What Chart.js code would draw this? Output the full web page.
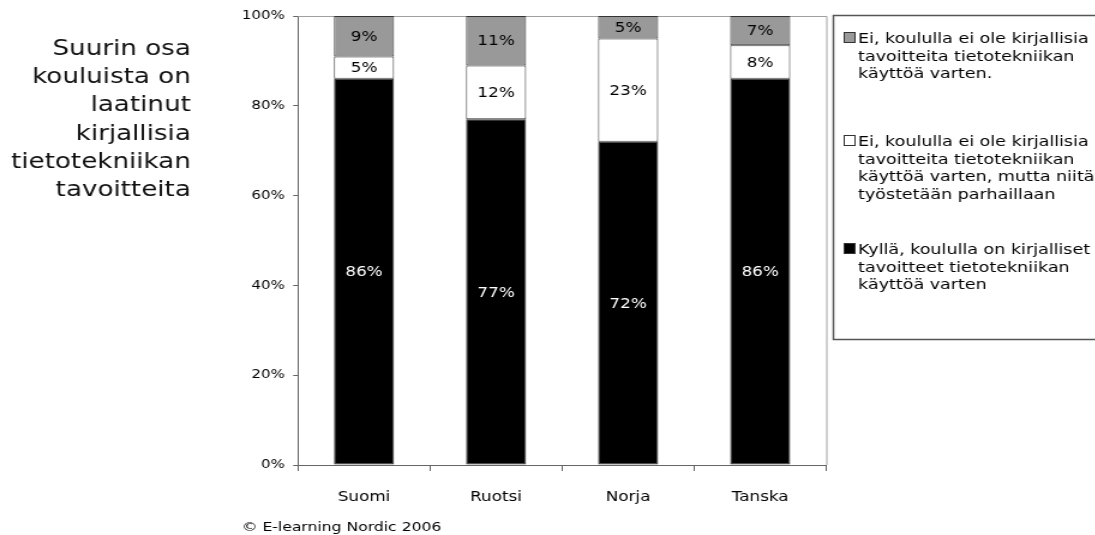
<!DOCTYPE html>
<html>
<head>
<meta charset="utf-8">
<script src="https://cdn.jsdelivr.net/npm/chart.js@4/dist/chart.umd.min.js"></script>
<style>
  html, body { margin: 0; padding: 0; background: #fff; overflow: hidden; }
  /* alkuperäinen kuva on venytetty vaakasuunnassa */
  #wrap { width: 913px; height: 535px; position: relative; transform: scaleX(1.2); transform-origin: 0 0; }
</style>
</head>
<body>
<div id="wrap"><canvas id="kaavio"></canvas></div>
<script>
// Tiedot
const categories = ['Suomi', 'Ruotsi', 'Norja', 'Tanska'];
const yesValues = [86, 77, 72, 86];        // Kyllä, kirjalliset tavoitteet
const workingValues = [5, 12, 23, 7.5];    // Ei, mutta työstetään
const noValues = [9, 11, 5, 6.5];          // Ei tavoitteita
const yTicks = [0, 20, 40, 60, 80, 100];

const titleLines = ['Suurin osa', 'kouluista on', 'laatinut', 'kirjallisia', 'tietotekniikan', 'tavoitteita'];
const noLabel = ['Ei, koululla ei ole kirjallisia', 'tavoitteita tietotekniikan', 'käyttöä varten.'];
const workingLabel = ['Ei, koululla ei ole kirjallisia', 'tavoitteita tietotekniikan', 'käyttöä varten, mutta niitä', 'työstetään parhaillaan'];
const yesLabel = ['Kyllä, koululla on kirjalliset', 'tavoitteet tietotekniikan', 'käyttöä varten'];
const copyright = '© E-learning Nordic 2006';

const FONT = '"DejaVu Sans", Verdana, sans-serif';

document.addEventListener('DOMContentLoaded', function () {
    const ctx = document.getElementById('kaavio').getContext('2d');

    // Ohut harmaa kehys kuvaajan ympärille (ylä- ja oikea reuna)
    const frame = {
        id: 'frame',
        beforeDatasetsDraw(chart) {
            const a = chart.chartArea;
            const c = chart.ctx;
            c.save();
            c.strokeStyle = '#a0a0a0';
            c.lineWidth = 1;
            c.beginPath();
            c.moveTo(a.left, a.top + 0.5);
            c.lineTo(a.right + 0.5, a.top + 0.5);
            c.lineTo(a.right + 0.5, a.bottom);
            c.stroke();
            c.restore();
        }
    };

    // Prosenttiluvut palkkien keskelle
    const dataLabels = {
        id: 'dataLabels',
        afterDatasetsDraw(chart) {
            const c = chart.ctx;
            c.save();
            c.font = '14px ' + FONT;
            c.textAlign = 'center';
            c.textBaseline = 'middle';
            chart.data.datasets.forEach((ds, i) => {
                const meta = chart.getDatasetMeta(i);
                meta.data.forEach((bar, j) => {
                    c.fillStyle = i === 0 ? '#fff' : '#000';
                    c.fillText(Math.round(ds.data[j]) + '%', bar.x, (bar.y + bar.base) / 2 + 1);
                });
            });
            c.restore();
        }
    };

    // Otsikko vasemmalle, selite oikealle, lähde alas
    const sideTexts = {
        id: 'sideTexts',
        afterDraw(chart) {
            const c = chart.ctx;
            c.save();
            c.fillStyle = '#111';
            c.font = '21.8px ' + FONT;
            c.textAlign = 'right';
            c.textBaseline = 'alphabetic';
            titleLines.forEach((t, i) => c.fillText(t, 159, 55 + i * 28.2));

            // selitelaatikko
            c.strokeStyle = '#555';
            c.lineWidth = 1.5;
            c.strokeRect(694.5, 15.5, 240, 324);

            const entries = [
                { lines: noLabel, color: chart.data.datasets[2].backgroundColor, y: 43 },
                { lines: workingLabel, color: chart.data.datasets[1].backgroundColor, y: 146 },
                { lines: yesLabel, color: chart.data.datasets[0].backgroundColor, y: 254 }
            ];
            c.font = '14.6px ' + FONT;
            c.textAlign = 'left';
            entries.forEach(e => {
                c.fillStyle = e.color;
                c.fillRect(703.5, e.y - 10.5, 9, 10);
                c.strokeStyle = '#333';
                c.lineWidth = 1;
                c.strokeRect(703.5, e.y - 10.5, 9, 10);
                c.fillStyle = '#000';
                e.lines.forEach((t, k) => c.fillText(t, 715, e.y + k * 17.6));
            });

            c.font = '13px ' + FONT;
            c.fillStyle = '#000';
            c.fillText(copyright, 201.5, 531);
            c.restore();
        }
    };

    new Chart(ctx, {
        type: 'bar',
        data: {
            labels: categories,
            datasets: [
                { label: yesLabel.join(' '), data: yesValues, backgroundColor: '#000000' },
                { label: workingLabel.join(' '), data: workingValues, backgroundColor: '#ffffff' },
                { label: noLabel.join(' '), data: noValues, backgroundColor: '#999999' }
            ].map(d => Object.assign(d, {
                borderColor: '#333333',
                borderWidth: 1,
                borderSkipped: false,
                categoryPercentage: 1,
                barPercentage: 0.455
            }))
        },
        options: {
            responsive: true,
            maintainAspectRatio: false,
            animation: false,
            layout: { padding: { left: 0, right: 224.5, top: 16, bottom: 0 } },
            plugins: {
                legend: { display: false },
                tooltip: { enabled: false }
            },
            scales: {
                x: {
                    stacked: true,
                    afterFit: s => { s.height = 70; },
                    grid: { drawOnChartArea: false, drawTicks: true, tickLength: 6, color: '#666', offset: true },
                    border: { color: '#666', width: 1 },
                    ticks: { color: '#000', padding: 18, font: { family: FONT, size: 14 } }
                },
                y: {
                    stacked: true,
                    min: 0,
                    max: 100,
                    afterFit: s => { s.width = 248.3; },
                    afterBuildTicks: s => { s.ticks = yTicks.map(v => ({ value: v })); },
                    grid: { drawOnChartArea: false, drawTicks: true, tickLength: 4, color: '#666' },
                    border: { color: '#666', width: 1 },
                    ticks: {
                        color: '#000',
                        padding: 7,
                        font: { family: FONT, size: 12.5 },
                        callback: v => v + '%'
                    }
                }
            }
        },
        plugins: [frame, dataLabels, sideTexts]
    });
});
</script>
</body>
</html>
